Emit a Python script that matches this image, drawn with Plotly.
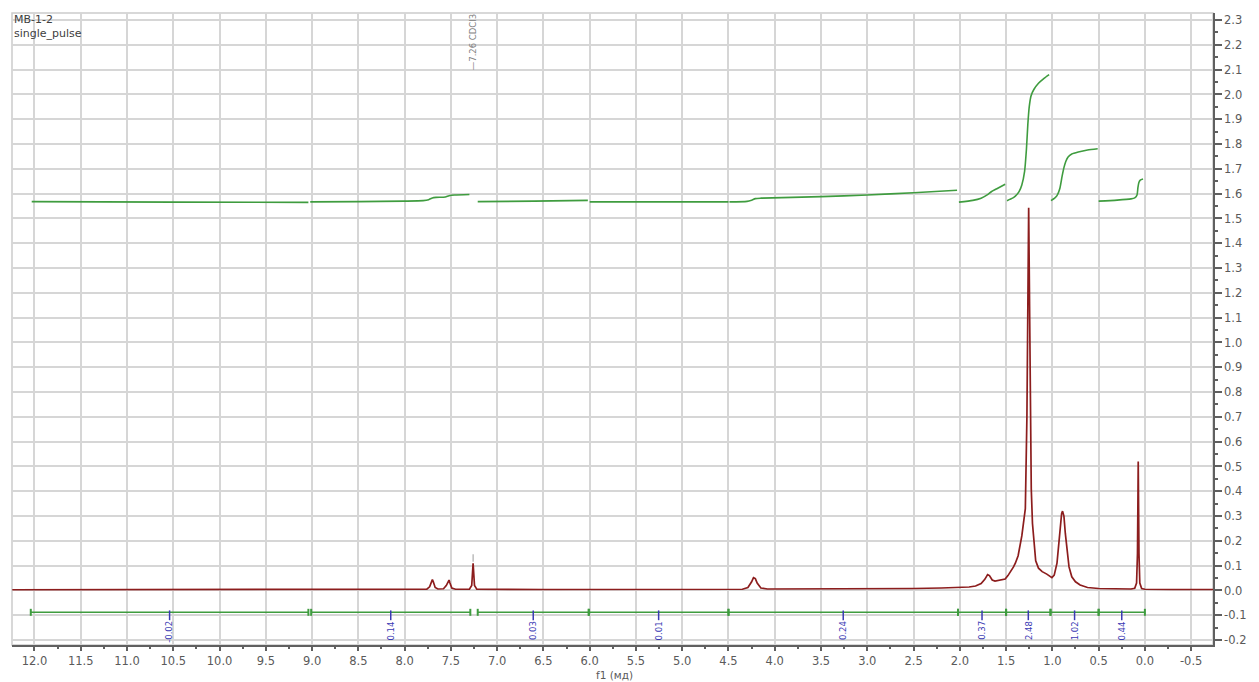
import plotly.graph_objects as go

# ---------------- data ----------------
spec_ppm = [12.24, 11.0, 10.0, 9.0, 8.0, 7.80,
            7.76, 7.73, 7.71, 7.70, 7.69, 7.67, 7.64,
            7.58, 7.55, 7.53, 7.52, 7.51, 7.49, 7.45,
            7.30, 7.275, 7.26, 7.245, 7.22,
            6.5, 6.0, 5.0, 4.35, 4.29, 4.25, 4.23, 4.21, 4.19, 4.15, 4.08,
            3.5, 3.0, 2.5, 2.2, 2.0, 1.9, 1.83, 1.77, 1.73, 1.70, 1.68, 1.65, 1.62,
            1.55, 1.51, 1.48, 1.45, 1.42, 1.40, 1.37, 1.33, 1.292, 1.275, 1.262, 1.256,
            1.25, 1.24, 1.228, 1.215, 1.20, 1.18, 1.15, 1.11, 1.06, 1.03, 1.005,
            0.98, 0.95, 0.93, 0.915, 0.90, 0.89, 0.875, 0.86, 0.84, 0.82, 0.79, 0.75,
            0.70, 0.62, 0.50, 0.30, 0.15, 0.11, 0.09, 0.08, 0.072, 0.064, 0.055, 0.035,
            0.0, -0.3, -0.74]
spec_int = [0.003, 0.003, 0.003, 0.003, 0.003, 0.004,
            0.005, 0.015, 0.035, 0.044, 0.035, 0.012, 0.006,
            0.007, 0.020, 0.038, 0.042, 0.030, 0.010, 0.005,
            0.005, 0.020, 0.110, 0.020, 0.005,
            0.004, 0.004, 0.004, 0.005, 0.012, 0.035, 0.052, 0.048, 0.030, 0.010, 0.006,
            0.006, 0.007, 0.008, 0.010, 0.012, 0.014, 0.018, 0.028, 0.045, 0.064, 0.060, 0.042, 0.038,
            0.042, 0.046, 0.060, 0.075, 0.095, 0.110, 0.140, 0.220, 0.330, 0.700, 1.300, 1.543,
            1.300, 0.750, 0.410, 0.270, 0.190, 0.120, 0.090, 0.076, 0.066, 0.058, 0.052,
            0.062, 0.110, 0.190, 0.260, 0.310, 0.320, 0.300, 0.230, 0.150, 0.095, 0.055, 0.035,
            0.022, 0.012, 0.008, 0.006, 0.006, 0.009, 0.030, 0.150, 0.520, 0.150, 0.030, 0.008,
            0.005, 0.004, 0.004]

# integral ranges (ppm) and integral values
int_start = [12.04, 9.01, 7.21, 6.01, 4.50, 2.02, 1.50, 1.02, 0.50]
int_end = [9.04, 7.29, 6.01, 4.50, 2.02, 1.50, 1.02, 0.50, 0.00]
int_labels = ["-0.02", "0.14", "0.03", "0.01", "0.24", "0.37", "2.48", "1.02", "0.44"]

# integral curves (ppm, value) per range
curve_ppm = [
    [12.03, 10.5, 9.04],
    [9.02, 8.5, 8.0, 7.80, 7.74, 7.70, 7.66, 7.56, 7.52, 7.46, 7.30],
    [7.21, 6.6, 6.02],
    [6.00, 5.2, 4.50],
    [4.49, 4.30, 4.25, 4.21, 4.15, 3.5, 3.0, 2.5, 2.03],
    [2.01, 1.86, 1.77, 1.70, 1.66, 1.60, 1.51],
    [1.49, 1.43, 1.40, 1.36, 1.33, 1.30, 1.28, 1.265, 1.25, 1.23, 1.20, 1.15, 1.09, 1.035],
    [1.015, 0.975, 0.95, 0.92, 0.895, 0.875, 0.855, 0.83, 0.79, 0.72, 0.62, 0.51],
    [0.50, 0.30, 0.15, 0.11, 0.085, 0.075, 0.065, 0.05, 0.02],
]
curve_val = [
    [1.568, 1.566, 1.565],
    [1.567, 1.568, 1.570, 1.572, 1.576, 1.583, 1.585, 1.587, 1.592, 1.595, 1.597],
    [1.568, 1.570, 1.573],
    [1.567, 1.567, 1.567],
    [1.567, 1.569, 1.574, 1.580, 1.582, 1.588, 1.595, 1.604, 1.614],
    [1.566, 1.573, 1.582, 1.596, 1.608, 1.620, 1.638],
    [1.572, 1.582, 1.590, 1.608, 1.635, 1.690, 1.780, 1.880, 1.950, 1.995, 2.020, 2.045, 2.065, 2.080],
    [1.572, 1.582, 1.592, 1.620, 1.670, 1.705, 1.730, 1.748, 1.760, 1.768, 1.776, 1.781],
    [1.570, 1.574, 1.579, 1.583, 1.595, 1.625, 1.645, 1.655, 1.659],
]

# peak label
peak_label_ppm = [7.26]
peak_label_text = ["\u20147.26 CDCl3"]

# axis ticks
x_tick_vals = [12.0, 11.5, 11.0, 10.5, 10.0, 9.5, 9.0, 8.5, 8.0, 7.5, 7.0, 6.5, 6.0,
               5.5, 5.0, 4.5, 4.0, 3.5, 3.0, 2.5, 2.0, 1.5, 1.0, 0.5, 0.0, -0.5]
x_tick_text = ["12.0", "11.5", "11.0", "10.5", "10.0", "9.5", "9.0", "8.5", "8.0", "7.5",
               "7.0", "6.5", "6.0", "5.5", "5.0", "4.5", "4.0", "3.5", "3.0", "2.5",
               "2.0", "1.5", "1.0", "0.5", "0.0", "-0.5"]
y_tick_vals = [-0.2, -0.1, 0.0, 0.1, 0.2, 0.3, 0.4, 0.5, 0.6, 0.7, 0.8, 0.9, 1.0, 1.1,
               1.2, 1.3, 1.4, 1.5, 1.6, 1.7, 1.8, 1.9, 2.0, 2.1, 2.2, 2.3]
y_tick_text = ["-0.2", "-0.1", "0.0", "0.1", "0.2", "0.3", "0.4", "0.5", "0.6", "0.7",
               "0.8", "0.9", "1.0", "1.1", "1.2", "1.3", "1.4", "1.5", "1.6", "1.7",
               "1.8", "1.9", "2.0", "2.1", "2.2", "2.3"]

# ---------------- styles ----------------
FONT = "DejaVu Sans"
RED = "#8c1d1d"
GREEN = "#3f9c3f"
BLUE = "#3a3ab4"
GRID = "#d6d6d6"
AXIS = "#606060"
TXT = "#5a5a5a"
BAR_Y = -0.088
TICK_Y = -0.100
LABEL_Y = -0.116

fig = go.Figure()

# integral curves
for px, pv in zip(curve_ppm, curve_val):
    fig.add_trace(go.Scatter(x=px, y=pv, mode="lines",
                             line=dict(color=GREEN, width=1.6, shape="spline", smoothing=0.6),
                             hoverinfo="skip", showlegend=False))

# spectrum
fig.add_trace(go.Scatter(x=spec_ppm, y=spec_int, mode="lines",
                         line=dict(color=RED, width=1.7),
                         hoverinfo="skip", showlegend=False))

# integration range bar
bx, by = [], []
for s, e in zip(int_start, int_end):
    bx += [s, e, None]
    by += [BAR_Y, BAR_Y, None]
fig.add_trace(go.Scatter(x=bx, y=by, mode="lines+markers",
                         line=dict(color=GREEN, width=1.5),
                         marker=dict(symbol="line-ns", size=5,
                                     line=dict(color=GREEN, width=2)),
                         hoverinfo="skip", showlegend=False))

# integral value ticks and labels
mids = [(s + e) / 2 for s, e in zip(int_start, int_end)]
fig.add_trace(go.Scatter(x=mids, y=[TICK_Y] * len(mids), mode="markers",
                         marker=dict(symbol="line-ns", size=7,
                                     line=dict(color=BLUE, width=1.5)),
                         hoverinfo="skip", showlegend=False))
for m, t in zip(mids, int_labels):
    fig.add_annotation(x=m, y=LABEL_Y, xref="x", yref="y", text=t, showarrow=False,
                       textangle=-90, xanchor="center", yanchor="top",
                       font=dict(family=FONT, size=8.5, color=BLUE))

# peak label (top) and marker above peak
for p, t in zip(peak_label_ppm, peak_label_text):
    idx = min(range(len(spec_ppm)), key=lambda i: abs(spec_ppm[i] - p))
    h = spec_int[idx]
    fig.add_shape(type="line", x0=p, x1=p, y0=h + 0.006, y1=h + 0.036,
                  xref="x", yref="y", line=dict(color="#9a9a9a", width=1))
    fig.add_annotation(x=p, y=2.09, xref="x", yref="y", text=t, showarrow=False,
                       textangle=-90, xanchor="center", yanchor="bottom",
                       font=dict(family=FONT, size=8.5, color="#808080"))

# title texts
fig.add_annotation(x=0, y=0.989, xref="paper", yref="paper", text="MB-1-2",
                   showarrow=False, xanchor="left", yanchor="middle",
                   font=dict(family=FONT, size=11, color="#404040"))
fig.add_annotation(x=0, y=0.968, xref="paper", yref="paper", text="single_pulse",
                   showarrow=False, xanchor="left", yanchor="middle",
                   font=dict(family=FONT, size=11, color="#404040"))
fig.add_annotation(x=0.502, y=-0.047, xref="paper", yref="paper", text="f1 (мд)",
                   showarrow=False, xanchor="center", yanchor="middle",
                   font=dict(family=FONT, size=10.5, color=TXT))

# frame
fig.add_shape(type="rect", xref="paper", yref="paper", x0=0, x1=1, y0=0, y1=1,
              line=dict(color="#cccccc", width=1.5), layer="below")

fig.update_layout(
    width=1259, height=682,
    margin=dict(l=12, r=36, t=13, b=37),
    paper_bgcolor="white", plot_bgcolor="white",
    showlegend=False,
    xaxis=dict(range=[12.243, -0.736], tickmode="array", tickvals=x_tick_vals,
               ticktext=x_tick_text, showgrid=True, gridcolor=GRID, gridwidth=1.5,
               zeroline=False, showline=True, linecolor=AXIS, linewidth=1.5,
               ticks="outside", ticklen=4, tickwidth=1.5, tickcolor=AXIS,
               tickfont=dict(family=FONT, size=11.5, color=TXT),
               minor=dict(tick0=0, dtick=0.25, ticks="outside", ticklen=2.5,
                          tickwidth=1.5, tickcolor=AXIS, showgrid=False)),
    yaxis=dict(range=[-0.2198, 2.3286], side="right", tickmode="array",
               tickvals=y_tick_vals, ticktext=y_tick_text, showgrid=True,
               gridcolor=GRID, gridwidth=1.5, zeroline=False, showline=True,
               linecolor=AXIS, linewidth=1.5, ticks="outside", ticklen=7,
               tickwidth=1.5, tickcolor=AXIS,
               tickfont=dict(family=FONT, size=11.5, color=TXT),
               minor=dict(tick0=0, dtick=0.05, ticks="outside", ticklen=3.5,
                          tickwidth=1.5, tickcolor=AXIS, showgrid=False)),
)

fig.write_html("out.html")
